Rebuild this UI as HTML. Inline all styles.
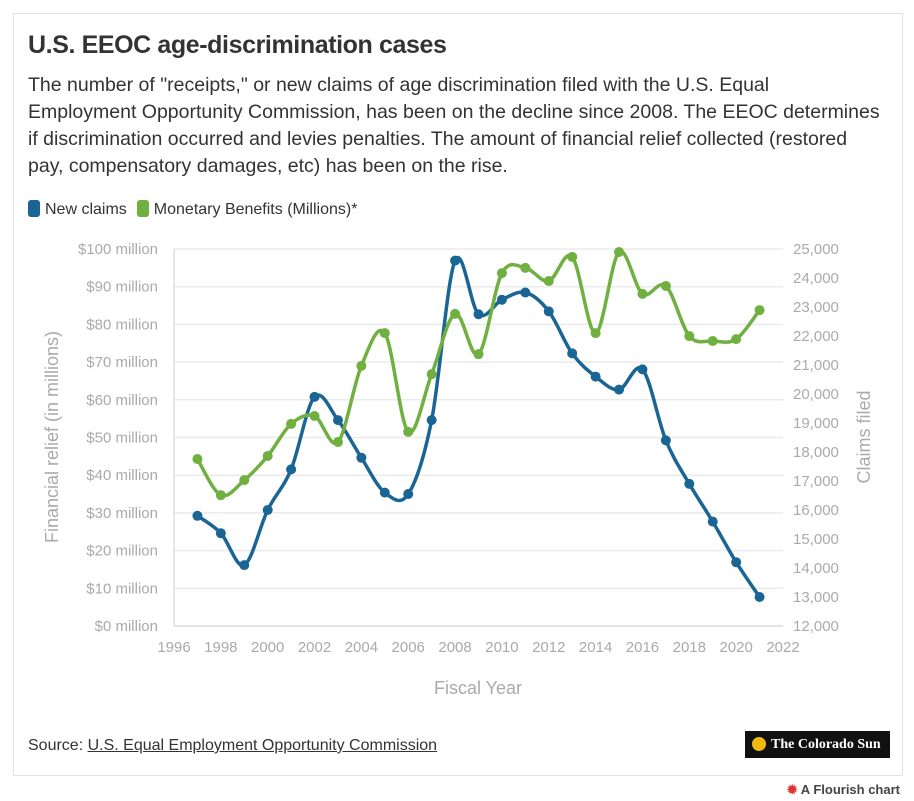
<!DOCTYPE html>
<html><head><meta charset="utf-8">
<style>
body{margin:0;background:#fff;font-family:"Liberation Sans",sans-serif;}
#card{position:absolute;left:13px;top:13px;width:890px;height:763px;border:1px solid #e2e2e2;box-sizing:border-box;}
h1{position:absolute;left:28px;top:31px;margin:0;font-size:25px;font-weight:bold;color:#333;letter-spacing:-0.4px}
#desc{position:absolute;left:28px;top:72px;width:880px;font-size:19.5px;line-height:27px;color:#333;margin:0;white-space:nowrap;letter-spacing:0px}
#legend{position:absolute;left:28px;top:200px;font-size:16px;color:#333;display:flex;gap:10px;align-items:center}
.sw{display:inline-block;width:12px;height:17px;border-radius:3px;margin-right:5px;vertical-align:-3px}
#source{position:absolute;left:28px;top:737px;font-size:16px;color:#333}
#source a{color:#333;text-decoration:underline}
#logo{position:absolute;left:745px;top:731px;width:145px;height:27px;background:#111;color:#fff;font-family:"Liberation Serif",serif;font-size:14px;font-weight:bold;line-height:27px;text-align:left;box-sizing:border-box;padding-left:26px}
#sun{position:absolute;left:7px;top:6px;width:14px;height:14px;border-radius:50%;background:#f2b90f}
#flourish{position:absolute;right:14px;top:782px;font-size:13px;color:#444;font-weight:bold}
</style></head><body>
<div id="card"></div>
<h1>U.S. EEOC age-discrimination cases</h1>
<p id="desc">The number of "receipts," or new claims of age discrimination filed with the U.S. Equal<br>Employment Opportunity Commission, has been on the decline since 2008. The EEOC determines<br>if discrimination occurred and levies penalties. The amount of financial relief collected (restored<br>pay, compensatory damages, etc) has been on the rise.</p>
<div id="legend">
<span><span class="sw" style="background:#1b6595"></span>New claims</span>
<span><span class="sw" style="background:#6fb040"></span>Monetary Benefits (Millions)*</span>
</div>
<svg id="chart" width="914" height="801" style="position:absolute;left:0;top:0"></svg>
<div id="source">Source: <a>U.S. Equal Employment Opportunity Commission</a></div>
<div id="logo"><span id="sun"></span>The Colorado Sun</div>
<div id="flourish"><span style="color:#d33">✹</span> A Flourish chart</div>
<script>
const years=[1997,1998,1999,2000,2001,2002,2003,2004,2005,2006,2007,2008,2009,2010,2011,2012,2013,2014,2015,2016,2017,2018,2019,2020,2021];
const claims=[15800,15200,14100,16000,17400,19900,19100,17800,16600,16550,19100,24600,22750,23250,23500,22850,21400,20600,20150,20850,18400,16900,15600,14200,13000];
const benefits=[44.3,34.7,38.7,45.1,53.6,55.7,48.8,69,77.7,51.5,66.8,82.8,72.1,93.6,95,91.5,97.9,77.7,99.2,88.1,90.2,76.9,75.6,76.1,83.8];
const xTicks=[1996,1998,2000,2002,2004,2006,2008,2010,2012,2014,2016,2018,2020,2022];
const leftTicks=[0,10,20,30,40,50,60,70,80,90,100];
const rightTicks=[12000,13000,14000,15000,16000,17000,18000,19000,20000,21000,22000,23000,24000,25000];
const NS="http://www.w3.org/2000/svg";
const svg=document.getElementById('chart');
const X0=174,X1=783,Y0=626,Y1=249;
const x=v=>X0+(v-1996)/(2022-1996)*(X1-X0);
const yl=v=>Y0-(v/100)*(Y0-Y1);
const yr=v=>Y0-(v-12000)/13000*(Y0-Y1);
function mk(t,a){const e=document.createElementNS(NS,t);for(const k in a)e.setAttribute(k,a[k]);svg.appendChild(e);return e;}
leftTicks.forEach(v=>{
 const g=mk('line',{x1:X0,x2:X1,y1:yl(v),y2:yl(v),stroke:'#ebebeb','stroke-width':1.5});
 
 
 const t=mk('text',{x:158,y:yl(v)+5,'text-anchor':'end','font-size':15,fill:'#aaa'});
 t.textContent='$'+v+' million';
 
 
});
rightTicks.forEach(v=>{
 const t=mk('text',{x:793,y:yr(v)+5,'font-size':15,fill:'#aaa'});
 t.textContent=v.toLocaleString('en-US');
 
 
});
const ax=mk('line',{x1:X0,x2:X0,y1:Y1,y2:Y0,stroke:'#ddd','stroke-width':1.5});


const bx=mk('line',{x1:X0,x2:X1,y1:Y0,y2:Y0,stroke:'#ddd','stroke-width':1.5});


xTicks.forEach(v=>{
 const t=mk('text',{x:x(v),y:652,'text-anchor':'middle','font-size':15,fill:'#aaa'});
 t.textContent=v;
 
 
});
let t=mk('text',{x:478,y:694,'text-anchor':'middle','font-size':18,fill:'#aaa'});t.textContent='Fiscal Year';


t=mk('text',{x:0,y:0,'text-anchor':'middle','font-size':18,fill:'#aaa',transform:'translate(58,437) rotate(-90)'});t.textContent='Financial relief (in millions)';


t=mk('text',{x:0,y:0,'text-anchor':'middle','font-size':18,fill:'#aaa',transform:'translate(870,437) rotate(-90)'});t.textContent='Claims filed';


function path(pts){
 let d='M'+pts[0][0]+','+pts[0][1];
 for(let i=0;i<pts.length-1;i++){
  const p0=pts[i-1]||pts[i],p1=pts[i],p2=pts[i+1],p3=pts[i+2]||p2;
  const c1=[p1[0]+(p2[0]-p0[0])/6,p1[1]+(p2[1]-p0[1])/6];
  const c2=[p2[0]-(p3[0]-p1[0])/6,p2[1]-(p3[1]-p1[1])/6];
  d+=`C${c1[0]},${c1[1]} ${c2[0]},${c2[1]} ${p2[0]},${p2[1]}`;
 }
 return d;
}
function series(vals,yf,color,name){
 const pts=vals.map((v,i)=>[x(years[i]),yf(v)]);
 const p=mk('path',{d:path(pts),fill:'none',stroke:color,'stroke-width':3.5,'stroke-linejoin':'round'});
 
 
 pts.forEach(q=>{
  const c=mk('circle',{cx:q[0],cy:q[1],r:5,fill:color});
  
  
 });
}
series(claims,yr,'#1b6595','new-claims');
series(benefits,yl,'#6fb040','monetary-benefits');
</script>
</body></html>
